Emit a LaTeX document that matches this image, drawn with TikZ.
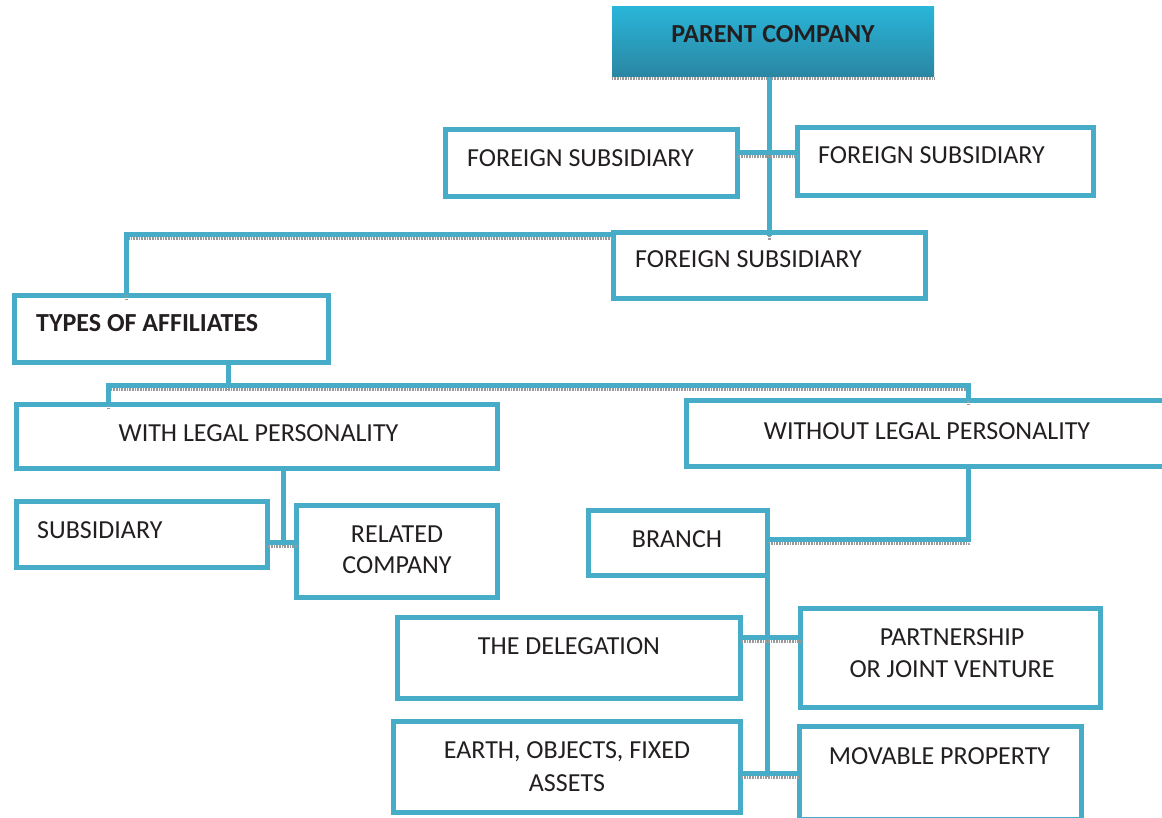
\documentclass[tikz,border=0pt]{standalone}
\usepackage{fontspec}
\setmainfont{Carlito}
\definecolor{frameblue}{HTML}{46ACC8}
\definecolor{inkdark}{HTML}{231F20}
\definecolor{shadegray}{HTML}{9A9A9A}
\definecolor{headtop}{HTML}{29B5D9}
\definecolor{headbot}{HTML}{2A86A2}

% draw a connector with its thin grey drop shadow underneath
\newcommand\linkpath[1]{\draw[linkshadow] #1; \draw[link] #1;}

\begin{document}
\begin{tikzpicture}[x=1pt,y=-1pt,
  box/.style={draw=frameblue,line width=5pt,fill=white,inner sep=0pt,outer sep=0pt},
  lbl/.style={inner sep=0pt,text=inkdark,font=\fontsize{26}{32}\selectfont},
  link/.style={draw=frameblue,line width=5pt},
  linkshadow/.style={draw=shadegray,line width=3pt,dash pattern=on 1pt off 0.6pt,
    transform canvas={yshift=-4pt}}]

\useasboundingbox (0,0) rectangle (1162,818);
\fill[white] (0,0) rectangle (1162,818);

% ---- boxes ----
\node[inner sep=0pt,outer sep=0pt,minimum width=322pt,minimum height=70pt,
      top color=headtop,bottom color=headbot] (parent) at (773,42) {};
\draw[shadegray,line width=3pt,dash pattern=on 1pt off 0.6pt]
  ([yshift=-2pt]parent.south west) -- ([yshift=-2pt]parent.south east);

\node[box,minimum width=292pt,minimum height=67pt] (fs1) at (591.5,163) {};
\node[box,minimum width=296pt,minimum height=68pt] (fs2) at (945.5,161.5) {};
\node[box,minimum width=312pt,minimum height=66pt] (fs3) at (769.5,265.5) {};
\node[box,minimum width=314pt,minimum height=67pt] (types) at (171.5,329) {};
\node[box,minimum width=481pt,minimum height=64pt] (with) at (257,436.5) {};
\node[box,minimum width=500pt,minimum height=66pt] (without) at (936.5,433.5) {};
\node[box,minimum width=251pt,minimum height=66pt] (sub) at (142,534.5) {};
\node[box,minimum width=201pt,minimum height=92pt] (rel) at (397,551.5) {};
\node[box,minimum width=179pt,minimum height=65pt] (branch) at (678,543) {};
\node[box,minimum width=343pt,minimum height=81pt] (deleg) at (569,658) {};
\node[box,minimum width=300pt,minimum height=99pt] (partner) at (950.5,658) {};
\node[box,minimum width=347pt,minimum height=91pt] (earth) at (567,767) {};
\node[box,minimum width=282pt,minimum height=93pt] (movable) at (940.5,773) {};

% ---- labels ----
\node[lbl,anchor=base,font=\fontsize{26}{32}\selectfont\bfseries] at (773,43) {PARENT COMPANY};
\node[lbl,anchor=base west] at (467,167) {FOREIGN SUBSIDIARY};
\node[lbl,anchor=base west] at (818,164) {FOREIGN SUBSIDIARY};
\node[lbl,anchor=base west] at (635,268) {FOREIGN SUBSIDIARY};
\node[lbl,anchor=base west,font=\fontsize{26}{32}\selectfont\bfseries] at (36,332) {TYPES OF AFFILIATES};
\node[lbl,anchor=base] at (258.5,441) {WITH LEGAL PERSONALITY};
\node[lbl,anchor=base] at (927,439) {WITHOUT LEGAL PERSONALITY};
\node[lbl,anchor=base west] at (37,538) {SUBSIDIARY};
\node[lbl,anchor=base] at (397,542) {RELATED};
\node[lbl,anchor=base] at (397,573) {COMPANY};
\node[lbl,anchor=base] at (677,547) {BRANCH};
\node[lbl,anchor=base] at (569,654) {THE DELEGATION};
\node[lbl,anchor=base] at (952,645) {PARTNERSHIP};
\node[lbl,anchor=base] at (952,677) {OR JOINT VENTURE};
\node[lbl,anchor=base] at (567,758) {EARTH, OBJECTS, FIXED};
\node[lbl,anchor=base] at (567,791) {ASSETS};
\node[lbl,anchor=base] at (939.5,764) {MOVABLE PROPERTY};

% ---- junction points ----
\coordinate (fj) at (768,153);
\coordinate (tj) at (126,235);
\coordinate (aj) at (228,385);
\coordinate (wj) at (283,542);
\coordinate (bj) at (767,773);
\coordinate (dj) at (767,637);

% ---- connectors ----
\linkpath{(fs3.north |- parent.south) -- ([yshift=-4pt]fs3.north)}
\linkpath{(fs1.east |- fj) -- (fs2.west |- fj)}
\linkpath{(fs3.west |- tj) -| (types.north -| tj)}
\linkpath{(types.south -| aj) -- (aj)}
\linkpath{([xshift=-149pt]with.north) |- (aj) -| ([xshift=31.5pt]without.north)}
\linkpath{(with.south -| wj) -- (wj)}
\linkpath{(sub.east |- wj) -- (rel.west |- wj)}
\linkpath{([xshift=31.5pt]without.south) |- ([yshift=4pt]branch.east)}
\linkpath{(branch.east) -- (branch.east |- bj)}
\linkpath{(deleg.east |- dj) -- (partner.west |- dj)}
\linkpath{(earth.east |- bj) -- (movable.west |- bj)}
\end{tikzpicture}
\end{document}
